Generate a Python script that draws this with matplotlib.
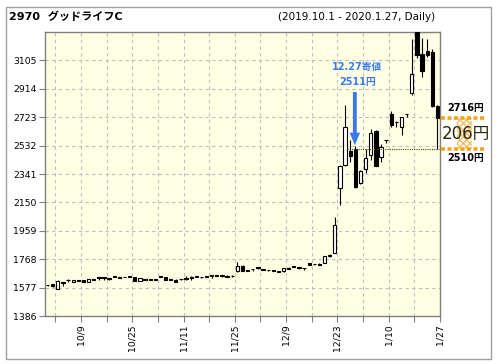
import matplotlib
matplotlib.use('Agg')
import matplotlib.pyplot as plt
import matplotlib.transforms as mtransforms
from matplotlib.patches import Rectangle
import numpy as np

plt.rcParams['font.family'] = ['DejaVu Sans', 'Noto Sans CJK JP']

# ---- data ----
tick_labels = ['10/9', '10/25', '11/11', '11/25', '12/9', '12/23', '1/10', '1/27']
tick_label_days = [6, 16, 26, 36, 46, 56, 66, 76]
y_ticks = [1386, 1577, 1768, 1959, 2150, 2341, 2532, 2723, 2914, 3105]

opens = [1592, 1600, 1568, 1612, 1625, 1617, 1624, 1625, 1617, 1632,
         1645, 1642, 1640, 1652, 1646, 1648, 1652, 1645, 1622, 1632,
         1630, 1631, 1650, 1645, 1632, 1630, 1634, 1638, 1645, 1650,
         1646, 1650, 1656, 1655, 1660, 1652, 1655, 1690, 1722, 1693,
         1700, 1712, 1697, 1694, 1692, 1686, 1686, 1702, 1718, 1712,
         1708, 1740, 1734, 1738, 1745, 1788, 1812, 2245, 2400, 2495,
         2511, 2278, 2372, 2469, 2632, 2457, 2570, 2744, 2690, 2659,
         2744, 2886, 3300, 3150, 3170, 3160, 2800]
highs = [1596, 1602, 1625, 1612, 1632, 1628, 1626, 1627, 1634, 1634,
         1650, 1645, 1640, 1658, 1648, 1650, 1654, 1647, 1642, 1634,
         1632, 1633, 1652, 1647, 1634, 1632, 1636, 1652, 1655, 1652,
         1648, 1652, 1656, 1657, 1662, 1660, 1665, 1752, 1728, 1695,
         1702, 1718, 1699, 1696, 1694, 1688, 1712, 1718, 1720, 1712,
         1708, 1742, 1736, 1742, 1790, 1800, 2054, 2400, 2805, 2570,
         2530, 2365, 2510, 2644, 2635, 2540, 2572, 2765, 2700, 2725,
         2744, 3250, 3320, 3255, 3250, 3185, 2805]
lows = [1588, 1583, 1565, 1588, 1618, 1615, 1620, 1612, 1615, 1628,
        1630, 1628, 1625, 1645, 1643, 1645, 1648, 1620, 1620, 1628,
        1627, 1628, 1646, 1627, 1630, 1614, 1630, 1625, 1630, 1646,
        1644, 1648, 1642, 1652, 1650, 1645, 1650, 1685, 1686, 1690,
        1690, 1700, 1694, 1691, 1688, 1683, 1684, 1700, 1716, 1700,
        1698, 1726, 1731, 1726, 1740, 1782, 1810, 2130, 2395, 2425,
        2250, 2275, 2345, 2435, 2395, 2425, 2550, 2660, 2660, 2600,
        2725, 2875, 3120, 2990, 3130, 2790, 2510]
closes = [1592, 1585, 1622, 1610, 1627, 1627, 1622, 1614, 1632, 1630,
          1643, 1642, 1638, 1650, 1644, 1646, 1650, 1622, 1640, 1630,
          1628, 1629, 1648, 1629, 1631, 1616, 1633, 1636, 1644, 1648,
          1645, 1650, 1655, 1654, 1658, 1650, 1653, 1725, 1690, 1691,
          1699, 1710, 1696, 1693, 1689, 1684, 1710, 1712, 1717, 1711,
          1707, 1728, 1733, 1728, 1788, 1790, 1998, 2395, 2660, 2465,
          2256, 2361, 2446, 2615, 2397, 2525, 2568, 2672, 2688, 2722,
          2742, 3013, 3140, 3035, 3142, 2795, 2716]

open_1227 = 2511
last_close = 2716
low_mark = 2510

# ---- figure ----
W, H = 496, 364
fig = plt.figure(figsize=(W / 100, H / 100), dpi=100)
fig.patch.set_facecolor('white')
fig.patches.append(Rectangle((5.5 / W, 5.5 / H), 485 / W, 352 / H, transform=fig.transFigure,
                             fill=False, edgecolor='#A0A0A0', linewidth=1.0))

L, R, T, B = 45, 440, 32, 316
ax = fig.add_axes([L / W, 1 - B / H, (R - L) / W, (B - T) / H])
ax.set_facecolor('#FFFFE4')

n = len(opens)
x = np.arange(n)
o = np.array(opens); c = np.array(closes)
hi = np.array(highs); lo = np.array(lows)
up = c >= o

ax.vlines(x, lo, hi, color='black', linewidth=0.8, zorder=3)
bottom = np.minimum(o, c)
height = np.maximum(np.abs(c - o), 5)
ax.bar(x, height, bottom=bottom, width=0.64,
       color=np.where(up, 'white', 'black'), edgecolor='black', linewidth=0.8, zorder=4)

ax.set_xlim(-0.5, n - 0.5)
ax.set_ylim(y_ticks[0], y_ticks[0] + 10 * (y_ticks[1] - y_ticks[0]))

# ticks
xt = np.arange(1, n, 5) + 0.5
lab_map = {d + 0.5: t for d, t in zip(tick_label_days, tick_labels)}
ax.set_xticks(xt)
ax.set_xticklabels([lab_map.get(v, '') for v in xt], rotation=90, fontsize=6.7)
ax.set_yticks(y_ticks)
ax.set_yticklabels([str(v) for v in y_ticks], fontsize=6.7)
ax.tick_params(axis='both', direction='out', length=4, width=0.8, color='#808080',
               labelcolor='black', pad=2)
ax.grid(True, color='#BEBEBE', linestyle=(0, (3, 3)), linewidth=0.8)
ax.set_axisbelow(True)
for s in ax.spines.values():
    s.set_color('#808080')
    s.set_linewidth(1.0)

# dotted line at 12.27 open
ax.plot([58.3, n - 0.6], [open_1227, open_1227], linestyle=(0, (1, 1)),
        color='#5A4A00', linewidth=0.8, zorder=5)

# blue annotation
blue = '#3A78F0'
ax.text(60.4, 3060, '12.27寄値', color=blue, fontsize=7, fontweight='bold',
        ha='center', va='center', zorder=6)
ax.text(60.4, 2958, f'{open_1227}円', color=blue, fontsize=7, fontweight='bold',
        ha='center', va='center', zorder=6)
ax.annotate('', xy=(59.9, 2535), xytext=(59.9, 2892),
            arrowprops=dict(width=2.8, headwidth=7.5, headlength=9, shrink=0,
                            color=blue, linewidth=0), zorder=6)

# right-side range marker
tr = mtransforms.blended_transform_factory(ax.transAxes, ax.transData)
orange = '#F7A21B'
fx = lambda px: (px - L) / (R - L)
for yv in (last_close, low_mark):
    ax.plot([fx(441), fx(484)], [yv, yv], transform=tr, color=orange,
            linewidth=2.6, linestyle=(0, (1.1, 0.7)), clip_on=False, zorder=5)
plt.rcParams['hatch.linewidth'] = 1.0
ax.add_patch(Rectangle((fx(457), low_mark), fx(472) - fx(457), last_close - low_mark,
                       transform=tr, facecolor='none', edgecolor=orange, hatch='xxxxx',
                       linewidth=0, clip_on=False, zorder=4, alpha=0.7))
ax.text(fx(466), last_close + 70, f'{last_close}円', transform=tr, fontsize=7,
        fontweight='bold', ha='center', va='center', clip_on=False)
ax.text(fx(466), (last_close + low_mark) / 2, f'{last_close - low_mark}円', transform=tr,
        fontsize=12, color='#2A2A08', ha='center', va='center', clip_on=False, zorder=6)
ax.text(fx(466), low_mark - 62, f'{low_mark}円', transform=tr, fontsize=7,
        fontweight='bold', ha='center', va='center', clip_on=False)

# title
fig.text(9 / W, 1 - 17 / H, '2970  グッドライフC', fontsize=8, fontweight='bold',
         ha='left', va='center')
fig.text(435 / W, 1 - 17 / H, '(2019.10.1 - 2020.1.27, Daily)', fontsize=7.5,
         ha='right', va='center')

fig.savefig('out.png', dpi=100)
